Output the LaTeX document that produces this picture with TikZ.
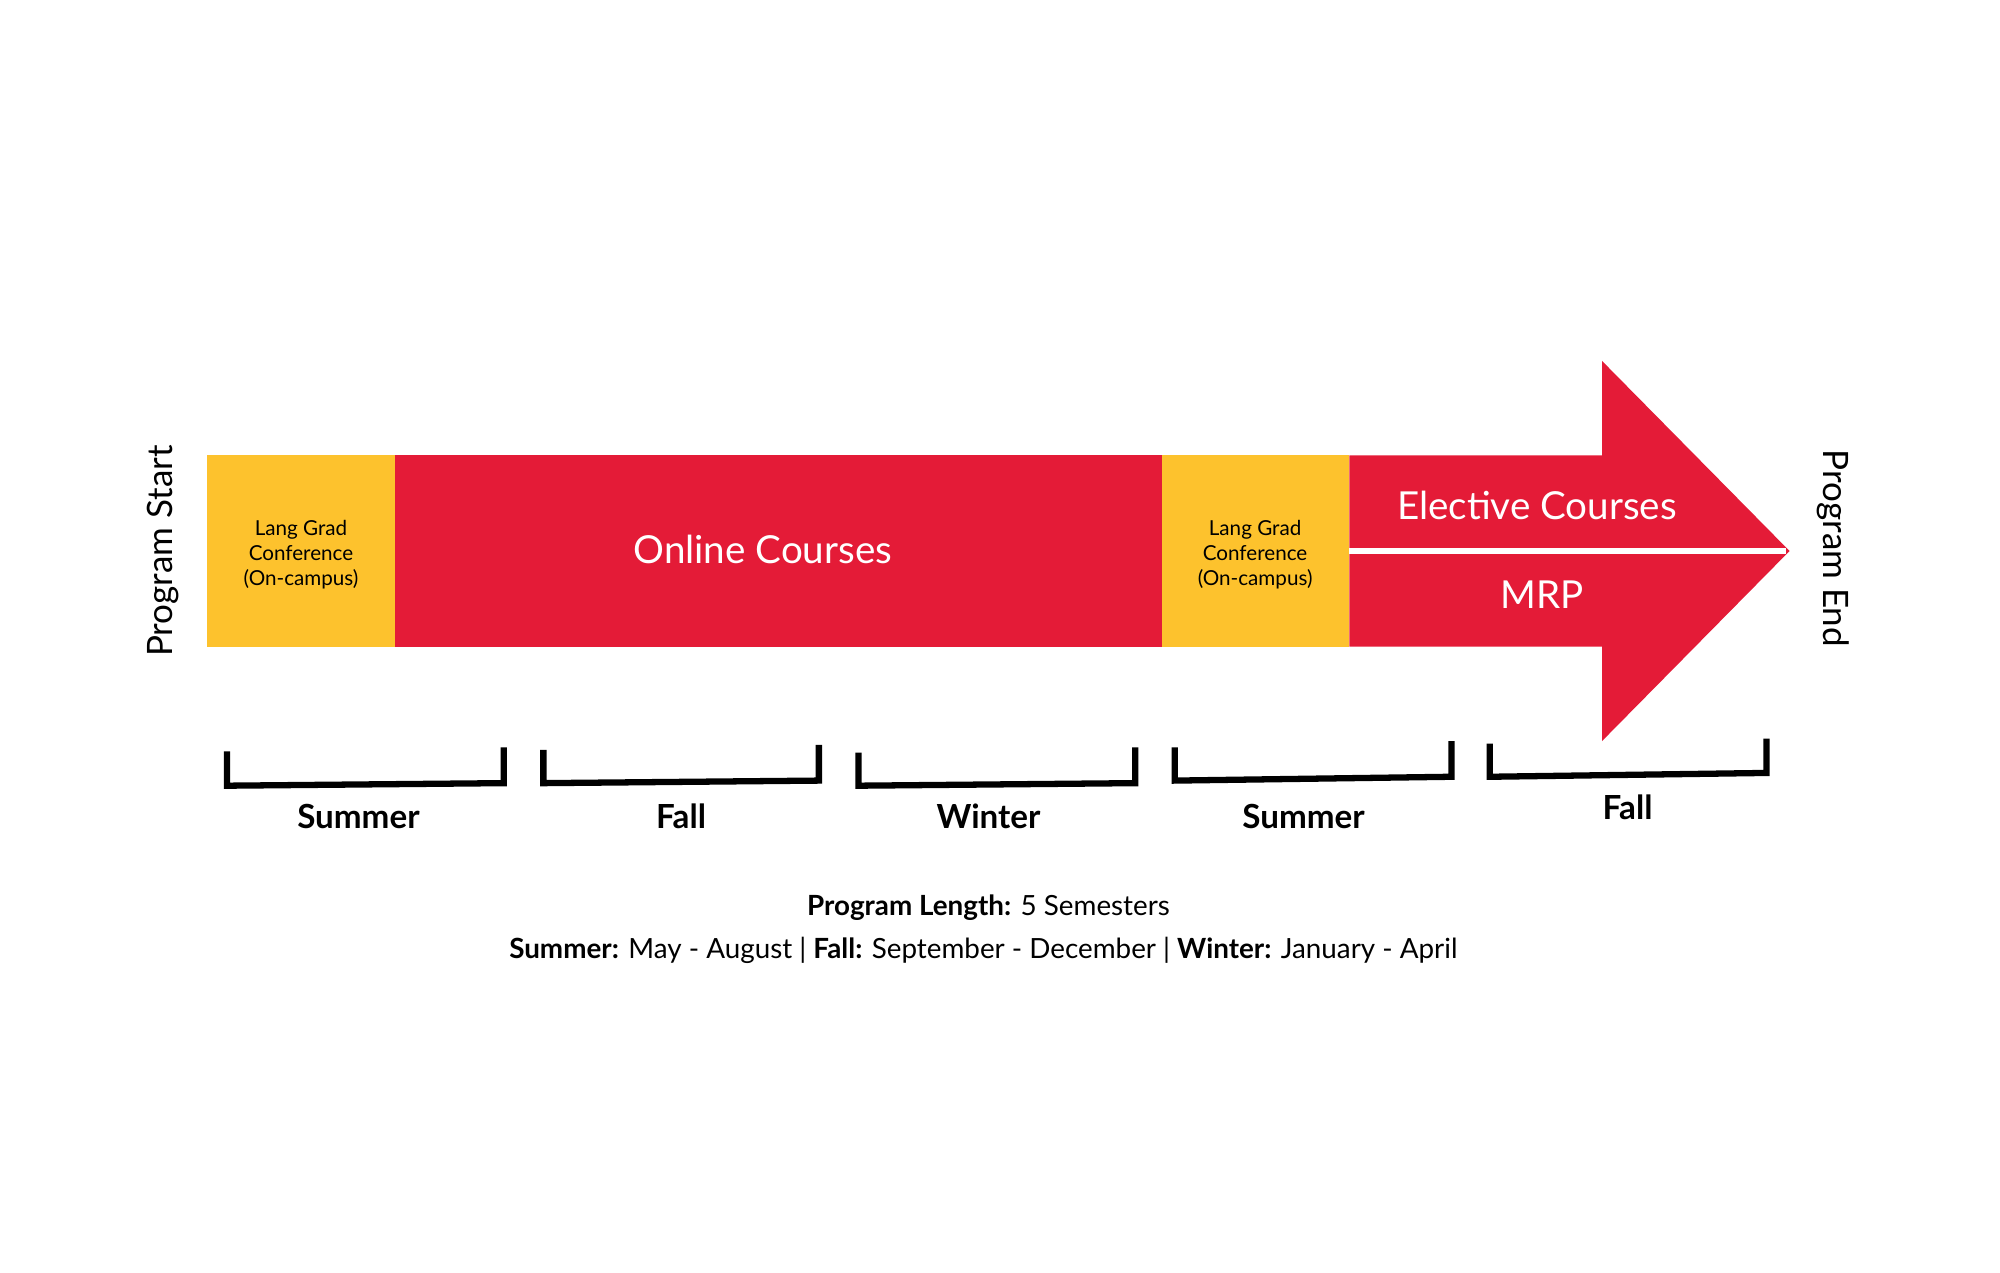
\documentclass[tikz,border=0pt]{standalone}
\usepackage{fontspec}
\setmainfont{Lato}
\definecolor{cred}{HTML}{E41B37}
\definecolor{cyel}{HTML}{FDC22D}
\newcommand{\fs}[1]{\fontsize{#1pt}{#1pt}\selectfont}
\begin{document}
\begin{tikzpicture}[x=0.01cm,y=-0.01cm,
  big/.style={text=white,font=\fs{8.6}},
  small/.style={font=\fs{4.6},align=center},
  sem/.style={font=\fs{7.4}\bfseries},
  side/.style={font=\fs{7.8}},
  br/.style={line width=1.4pt,line join=miter},
  foot/.style={font=\fs{6.2}}]
\useasboundingbox[fill=white] (0,0) rectangle (1568,998);
\fill[cyel] (162,357) rectangle (310,507);
\fill[cred] (310,357) rectangle (911,507);
\fill[cyel] (911,357) rectangle (1058,507);
\fill[cred] (1058,357) -- (1256,357) -- (1256,283) -- (1403,432) -- (1256,581) -- (1256,507) -- (1058,507) -- cycle;
\draw[white,line width=1.4pt] (1058,432) -- (1400,432);
\node[big] (oc) at (598,431) {Online Courses};
\node[big] (el) at (1205,396) {Elective Courses};
\node[big] (mrp) at (1209,466) {MRP};
\node[small] (l1) at (236,435) {Lang Grad\\[1pt]Conference\\[1pt](On-campus)};
\node[small] (l2) at (984,435) {Lang Grad\\[1pt]Conference\\[1pt](On-campus)};
\node[side,rotate=90] (ps) at (128,432) {Program Start};
\node[side,rotate=-90] (pe) at (1437,430) {Program End};
\draw[br] (178,589) -- (178,616) -- (395,614) -- (395,586);
\draw[br] (426,588) -- (426,614) -- (642,612) -- (642,584);
\draw[br] (673,590) -- (673,616) -- (890,614) -- (890,586);
\draw[br] (921,586) -- (921,612) -- (1138,609) -- (1138,581);
\draw[br] (1168,583) -- (1168,609) -- (1385,606) -- (1385,579);
\node[sem] (s1) at (281,640) {Summer};
\node[sem] (s2) at (534,640) {Fall};
\node[sem] (s3) at (775,640) {Winter};
\node[sem] (s4) at (1022,640) {Summer};
\node[sem] (s5) at (1276,633) {Fall};
\node[foot] (f1) at (775,712) {\textbf{Program Length:} 5 Semesters};
\node[foot] (f2) at (771,745) {\textbf{Summer:} May - August | \textbf{Fall:} September - December | \textbf{Winter:} January - April};
\end{tikzpicture}
\end{document}
